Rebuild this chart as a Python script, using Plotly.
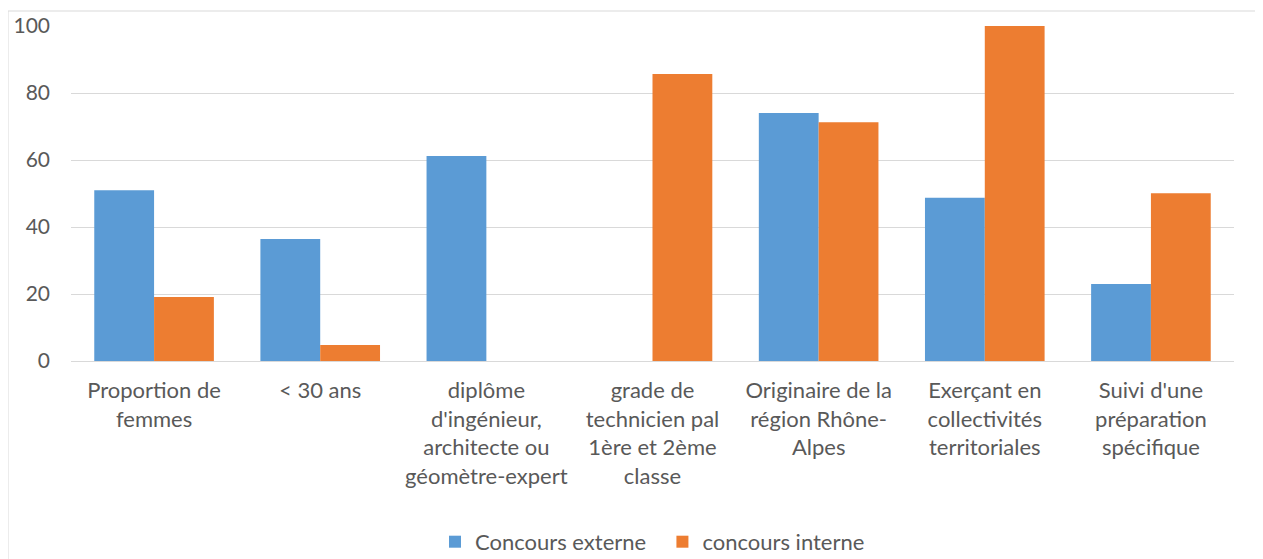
import plotly.graph_objects as go

categories = [
    "Proportion de<br>femmes",
    "< 30 ans",
    "diplôme<br>d'ingénieur,<br>architecte ou<br>géomètre-expert",
    "grade de<br>technicien pal<br>1ère et 2ème<br>classe",
    "Originaire de la<br>région Rhône-<br>Alpes",
    "Exerçant en<br>collectivités<br>territoriales",
    "Suivi d'une<br>préparation<br>spécifique",
]
externe = [51.0, 36.4, 61.2, 0, 74.0, 48.7, 23.0]
interne = [19.1, 4.8, 0, 85.7, 71.3, 100, 50.1]
y_ticks = [0, 20, 40, 60, 80, 100]

BLUE = '#5B9BD5'
ORANGE = '#ED7D31'
GRID = '#d9d9d9'
TEXT = '#595959'

fig = go.Figure()
fig.add_trace(go.Bar(x=categories, y=externe, name='Concours externe' + '\u00a0' * 2,
                     marker_color=BLUE, marker_line_width=0))
fig.add_trace(go.Bar(x=categories, y=interne, name='concours interne',
                     marker_color=ORANGE, marker_line_width=0))

# chart frame (cut off by the window at right and bottom)
fx = -63 / 1163
fy = 350 / 335
fig.add_shape(type='line', xref='paper', yref='paper', x0=fx, x1=fx, y0=-1, y1=fy,
              line=dict(color=GRID, width=1))
fig.add_shape(type='line', xref='paper', yref='paper', x0=fx, x1=1.2, y0=fy, y1=fy,
              line=dict(color=GRID, width=1))

# page body has an 8px margin, so the figure is sized to fit inside it
fig.update_layout(
    width=1255, height=551,
    barmode='group', bargap=0.28, bargroupgap=0,
    paper_bgcolor='white', plot_bgcolor='white',
    font=dict(family='Lato, Open Sans, sans-serif', size=22, color=TEXT),
    margin=dict(l=63, r=29, t=18, b=198, autoexpand=False),
    xaxis=dict(showgrid=False, showline=False, ticks='', tickangle=0,
               automargin=False, ticklabelstandoff=14,
               tickfont=dict(size=22, color=TEXT)),
    yaxis=dict(range=[0, 100], tickvals=y_ticks, showgrid=True, gridcolor=GRID,
               gridwidth=1, zeroline=True, zerolinecolor=GRID, zerolinewidth=1,
               automargin=False, ticks='', ticklabelstandoff=20,
               tickfont=dict(size=21, color=TEXT)),
    legend=dict(orientation='h', x=0.5, xanchor='center', y=-0.54, yanchor='middle',
                font=dict(size=22, color=TEXT), itemwidth=30, traceorder='normal'),
    showlegend=True,
)

fig.write_html("out.html")
